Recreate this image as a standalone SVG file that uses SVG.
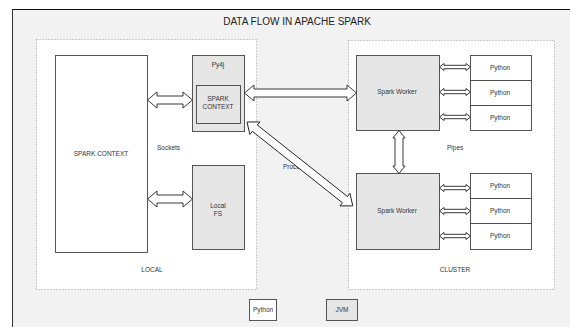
<svg xmlns="http://www.w3.org/2000/svg" width="570" height="327" viewBox="0 0 570 327">
<style>
text{font-family:"Liberation Sans",Arial,sans-serif;fill:#333;text-anchor:middle}
.t{font-size:6.5px}
.title{font-size:10px;fill:#222}
.panel{fill:#fff;stroke:#999;stroke-width:1;stroke-dasharray:1 2}
.box{stroke:#444;stroke-width:0.9}
.w{fill:#fff}
.g{fill:#e6e6e6}
.arr{fill:#fff;stroke:#222;stroke-width:0.9;stroke-linejoin:miter}
</style>
<rect x="0" y="0" width="570" height="327" fill="#fff"/>
<rect x="12.5" y="9.5" width="560" height="320" fill="#f2f2f2"/>
<line x1="12" y1="9.5" x2="570" y2="9.5" stroke="#111" stroke-width="1"/>
<line x1="12.5" y1="9" x2="12.5" y2="327" stroke="#333" stroke-width="1"/>
<text class="title" x="297" y="25">DATA FLOW IN APACHE SPARK</text>

<g id="local">
<rect class="panel" x="36.5" y="39.5" width="220" height="250"/>
<text class="t" x="152" y="272">LOCAL</text>
</g>
<g id="cluster">
<rect class="panel" x="348.5" y="40.5" width="206" height="249"/>
<text class="t" x="455" y="272">CLUSTER</text>
</g>

<g id="spark-context">
<rect class="box w" x="55.5" y="55.5" width="92" height="197"/>
<text class="t" x="101" y="156">SPARK CONTEXT</text>
</g>
<g id="py4j">
<rect class="box g" x="192.5" y="55.5" width="52" height="76"/>
<text class="t" x="218" y="67">Py4j</text>
</g>
<g id="py4j-spark-context">
<rect class="box g" x="196.5" y="85.5" width="44" height="38"/>
<text class="t" x="218" y="101">SPARK</text>
<text class="t" x="218" y="109">CONTEXT</text>
</g>
<g id="local-fs">
<rect class="box g" x="192.5" y="165.5" width="52" height="84"/>
<text class="t" x="218" y="208">Local</text>
<text class="t" x="218" y="216">FS</text>
</g>
<g id="worker1">
<rect class="box g" x="356.5" y="55.5" width="83" height="75"/>
<text class="t" x="397" y="94">Spark Worker</text>
</g>
<g id="worker2">
<rect class="box g" x="356.5" y="173.5" width="83" height="76"/>
<text class="t" x="397" y="213">Spark Worker</text>
</g>
<g id="python1a"><rect class="box w" x="470.5" y="55.5" width="61" height="25"/><text class="t" x="500" y="70">Python</text></g>
<g id="python1b"><rect class="box w" x="470.5" y="80.5" width="61" height="25"/><text class="t" x="500" y="95">Python</text></g>
<g id="python1c"><rect class="box w" x="470.5" y="105.5" width="61" height="25"/><text class="t" x="500" y="120">Python</text></g>
<g id="python2a"><rect class="box w" x="470.5" y="173.5" width="61" height="25"/><text class="t" x="500" y="188">Python</text></g>
<g id="python2b"><rect class="box w" x="470.5" y="198.5" width="61" height="25"/><text class="t" x="500" y="213">Python</text></g>
<g id="python2c"><rect class="box w" x="470.5" y="223.5" width="61" height="26"/><text class="t" x="500" y="238">Python</text></g>

<g id="legend-python"><rect class="box w" x="249.5" y="299.5" width="27" height="21"/><text class="t" x="263" y="312">Python</text></g>
<g id="legend-jvm"><rect class="box g" x="326.5" y="299.5" width="31" height="21"/><text class="t" x="342" y="312">JVM</text></g>

<text class="t" x="157" y="150" style="text-anchor:start">Sockets</text>
<text class="t" x="447" y="150" style="text-anchor:start">Pipes</text>
<text class="t" x="283" y="169" style="text-anchor:start">Process</text>

<g id="connectors">
<!-- spark context <-> py4j -->
<polygon class="arr" points="147.5,100 157,92 157,96 183,96 183,92 192.5,100 183,108 183,104 157,104 157,108"/>
<!-- spark context <-> local fs -->
<polygon class="arr" points="147.5,199 157,191 157,195 183,195 183,191 192.5,199 183,207 183,203 157,203 157,207"/>
<!-- py4j <-> worker1 -->
<polygon class="arr" points="244.5,93 254,85 254,89 347,89 347,85 356.5,93 347,101 347,97 254,97 254,101"/>
<!-- py4j <-> worker2 diagonal -->
<polygon class="arr" transform="translate(247,122) rotate(38.4)" points="0,0 10,-8 10,-4 125,-4 125,-8 135,0 125,8 125,4 10,4 10,8"/>
<!-- worker1 <-> worker2 -->
<polygon class="arr" points="399,130.5 405,138 403,138 403,166 405,166 399,173.5 393,166 395,166 395,138 393,138"/>
<!-- worker <-> python -->
<polygon class="arr" points="439.5,67 444,63.5 444,65.3 466,65.3 466,63.5 470.5,67 466,70.5 466,68.7 444,68.7 444,70.5"/>
<polygon class="arr" points="439.5,92 444,88.5 444,90.3 466,90.3 466,88.5 470.5,92 466,95.5 466,93.7 444,93.7 444,95.5"/>
<polygon class="arr" points="439.5,117 444,113.5 444,115.3 466,115.3 466,113.5 470.5,117 466,120.5 466,118.7 444,118.7 444,120.5"/>
<polygon class="arr" points="439.5,188 444,184.5 444,186.3 466,186.3 466,184.5 470.5,188 466,191.5 466,189.7 444,189.7 444,191.5"/>
<polygon class="arr" points="439.5,211 444,207.5 444,209.3 466,209.3 466,207.5 470.5,211 466,214.5 466,212.7 444,212.7 444,214.5"/>
<polygon class="arr" points="439.5,236 444,232.5 444,234.3 466,234.3 466,232.5 470.5,236 466,239.5 466,237.7 444,237.7 444,239.5"/>
</g>
</svg>
